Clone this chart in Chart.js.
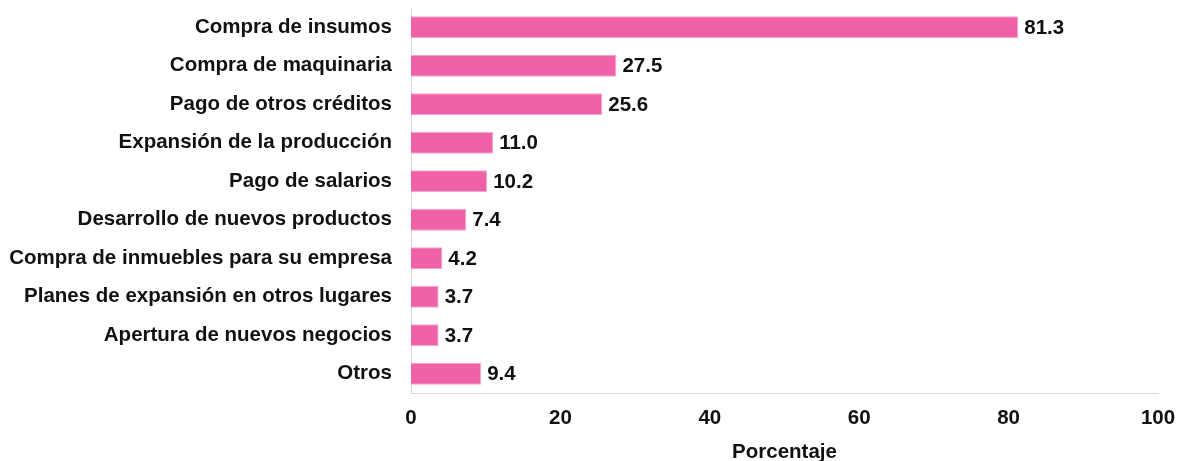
<!DOCTYPE html>
<html><head><meta charset="utf-8">
<script src="https://cdn.jsdelivr.net/npm/chart.js@4/dist/chart.umd.min.js"></script>
<style>html,body{margin:0;padding:0;background:#fff}#wrap{width:1181px;height:461px}</style>
</head><body><div id="wrap"><canvas id="c" width="1181" height="461"></canvas></div>
<script>
const categories = ["Compra de insumos","Compra de maquinaria","Pago de otros créditos","Expansión de la producción","Pago de salarios","Desarrollo de nuevos productos","Compra de inmuebles para su empresa","Planes de expansión en otros lugares","Apertura de nuevos negocios","Otros"];
const values = [81.3,27.5,25.6,11.0,10.2,7.4,4.2,3.7,3.7,9.4];
const xTicks = [0,20,40,60,80,100];
const FONT = "'Liberation Sans', Arial, sans-serif";
const FS = 20.5;

const valueLabels = {
  id:'valueLabels',
  afterDatasetsDraw(chart){
    const ctx = chart.ctx;
    const meta = chart.getDatasetMeta(0);
    ctx.save();
    ctx.font = "bold " + FS + "px " + FONT;
    ctx.fillStyle = "#111";
    ctx.textAlign = "left";
    ctx.textBaseline = "middle";
    meta.data.forEach((bar,i)=>{
      ctx.fillText(values[i].toFixed(1), bar.x + 6, bar.y + 1);
    });
    ctx.restore();
  }
};

new Chart(document.getElementById('c'), {
  type:'bar',
  data:{labels:categories, datasets:[{data:values, backgroundColor:'#f062a8', borderColor:'#f6a6cc', borderWidth:1, barPercentage:0.57, categoryPercentage:1.0}]},
  options:{
    indexAxis:'y', responsive:false, animation:false,
    layout:{padding:{top:8,left:0,right:23,bottom:0}},
    plugins:{legend:{display:false}, tooltip:{enabled:false}},
    scales:{
      x:{min:0,max:100,
        afterBuildTicks(s){ s.ticks = xTicks.map(v=>({value:v})); },
        afterFit(s){ s.height = 68; s.paddingLeft = 0; s.paddingRight = 0; },
        grid:{display:false, drawTicks:false},
        border:{display:true, color:'#d9d9d9', width:1},
        ticks:{padding:13, color:'#111', font:{family:FONT, size:FS, weight:'bold'}},
        title:{display:true, text:'Porcentaje', color:'#111', font:{family:FONT, size:FS, weight:'bold'}, padding:{top:4,bottom:-4}}
      },
      y:{
        afterFit(s){ s.width = 411; s.paddingTop = 0; s.paddingBottom = 0; },
        grid:{display:false, drawTicks:false},
        border:{display:true, color:'#d9d9d9', width:1},
        ticks:{padding:19, color:'#111', font:{family:FONT, size:FS, weight:'bold'}}
      }
    }
  },
  plugins:[valueLabels]
});
</script></body></html>
